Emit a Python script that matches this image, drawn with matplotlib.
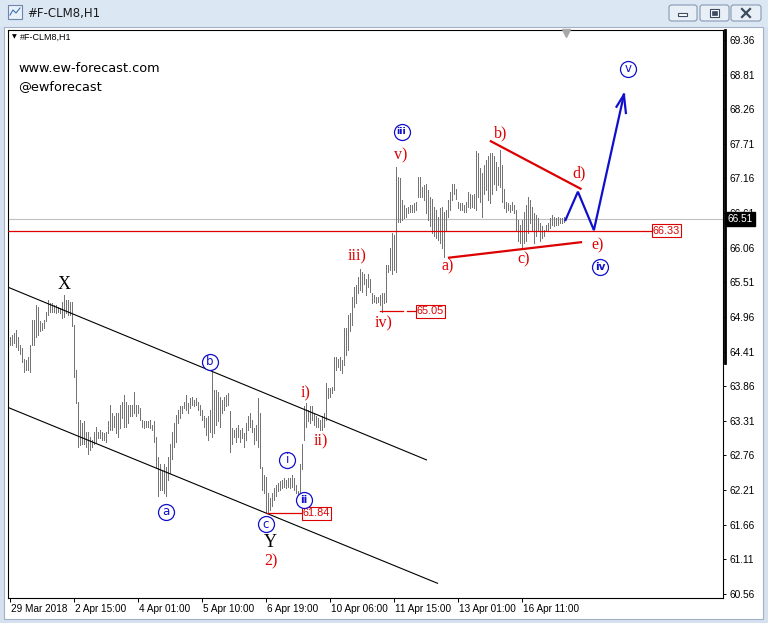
import matplotlib
matplotlib.use("Agg")
import matplotlib.pyplot as plt
from matplotlib.patches import Rectangle, FancyBboxPatch
from matplotlib.lines import Line2D
import matplotlib.transforms as mtrans

W, H = 768, 623

# ---------------- data (H1 bars of #F-CLM8) ----------------
highs = [
    64.65, 64.67, 64.70, 64.75, 64.65, 64.51, 64.46, 64.30, 64.28, 64.33,
    64.51, 64.91, 64.91, 65.15, 65.12, 64.89, 64.86, 64.91, 65.04, 65.23,
    65.18, 65.18, 65.15, 65.15, 65.12, 65.10, 65.20, 65.31, 65.23, 65.23,
    65.20, 65.20, 64.83, 64.12, 63.61, 63.32, 63.27, 63.30, 63.14, 63.14,
    63.06, 63.01, 63.14, 63.22, 63.14, 63.16, 63.14, 63.11, 63.14, 63.30,
    63.56, 63.43, 63.38, 63.43, 63.43, 63.56, 63.61, 63.72, 63.61, 63.56,
    63.56, 63.56, 63.77, 63.56, 63.56, 63.51, 63.32, 63.30, 63.30, 63.30,
    63.32, 63.24,
    63.30, 63.06, 62.74, 62.63, 62.53, 62.63, 62.58, 62.74, 62.95, 63.14,
    63.27, 63.40, 63.48, 63.54, 63.54, 63.61, 63.72, 63.59, 63.67, 63.69,
    63.64, 63.67, 63.61, 63.56, 63.48, 63.38, 63.35, 63.38, 63.48, 64.09,
    63.80, 63.80, 63.77, 63.69, 63.64, 63.69, 63.72, 63.75, 63.46, 63.19,
    63.16, 63.19, 63.24, 63.16, 63.19, 63.11, 63.27, 63.38, 63.43, 63.32,
    63.19, 63.24, 63.67, 63.43, 62.58, 62.45, 62.42, 62.16, 62.08, 62.16,
    62.24, 62.29, 62.32, 62.35, 62.37, 62.40, 62.37, 62.40, 62.40, 62.45,
    62.40, 62.29, 62.19, 62.63,
    62.95, 63.54, 63.59, 63.48, 63.54, 63.54, 63.43, 63.38, 63.35, 63.32,
    63.38, 63.43, 63.91, 63.83, 63.83, 63.85, 64.33, 64.33, 64.30, 64.33,
    64.28, 64.78, 64.78, 64.99, 65.02, 65.28, 65.44, 65.47, 65.60, 65.73,
    65.68, 65.65, 65.57, 65.65, 65.57, 65.34, 65.31, 65.28, 65.28, 65.31,
    65.34, 65.34, 65.79, 65.79, 66.05, 66.29, 66.26, 67.35, 67.19, 67.16,
    66.82, 66.74, 66.69, 66.71, 66.74, 66.74, 66.77, 66.79, 67.19, 67.19,
    67.03, 67.06, 67.08, 66.98, 66.87, 66.84, 66.71, 66.66, 66.55, 66.69,
    66.71, 66.63, 66.66, 66.82, 66.95, 67.08, 67.08, 67.00, 66.79, 66.77,
    66.77, 66.74, 66.79, 66.95, 66.92, 66.90, 66.92, 67.59, 67.56, 67.32,
    67.24, 67.37, 67.45, 67.51, 67.56, 67.56, 67.51, 67.43, 67.35, 67.61,
    67.37, 67.00, 66.79, 66.77, 66.74, 66.79, 66.74, 66.66, 66.50, 66.42,
    66.50, 66.63, 66.74, 66.87, 66.82, 66.71, 66.61, 66.58, 66.53, 66.45,
    66.40, 66.34, 66.42, 66.45, 66.53, 66.58, 66.55, 66.53, 66.55, 66.53,
    66.53, 66.55,
]
lows = [
    64.51, 64.51, 64.54, 64.49, 64.44, 64.38, 64.25, 64.09, 64.12, 64.12,
    64.09, 64.51, 64.51, 64.65, 64.67, 64.73, 64.75, 64.78, 64.89, 64.99,
    65.04, 65.04, 65.04, 65.02, 65.04, 65.02, 64.94, 64.96, 65.02, 64.99,
    64.99, 64.81, 64.01, 63.59, 62.90, 62.93, 62.95, 62.95, 62.90, 62.79,
    62.85, 62.90, 62.95, 62.98, 63.03, 63.03, 63.01, 63.01, 62.98, 63.11,
    63.16, 63.16, 63.22, 63.11, 63.06, 63.19, 63.35, 63.22, 63.22, 63.27,
    63.38, 63.38, 63.43, 63.38, 63.43, 63.32, 63.22, 63.19, 63.22, 63.22,
    63.19, 63.16,
    62.98, 62.56, 62.11, 62.21, 62.21, 62.16, 62.11, 62.37, 62.48, 62.71,
    62.90, 62.98, 63.27, 63.35, 63.43, 63.51, 63.48, 63.43, 63.51, 63.56,
    63.54, 63.56, 63.48, 63.40, 63.32, 63.22, 63.09, 63.01, 63.14, 63.06,
    63.11, 63.24, 63.30, 63.22, 63.43, 63.48, 63.54, 63.56, 62.82, 62.95,
    63.06, 62.98, 63.06, 62.98, 63.03, 62.90, 63.01, 63.17, 63.22, 63.14,
    62.95, 63.01, 62.90, 62.56, 62.21, 62.16, 61.87, 61.84, 61.89, 61.95,
    62.05, 62.11, 62.19, 62.21, 62.24, 62.26, 62.24, 62.26, 62.24, 62.26,
    62.21, 62.16, 62.05, 62.11,
    62.55, 63.00, 63.22, 63.30, 63.27, 63.32, 63.24, 63.22, 63.22, 63.16,
    63.16, 63.22, 63.32, 63.67, 63.69, 63.75, 63.80, 64.12, 64.17, 64.12,
    64.07, 64.20, 64.36, 64.44, 64.73, 64.83, 65.12, 65.18, 65.34, 65.39,
    65.36, 65.49, 65.31, 65.44, 65.36, 65.18, 65.20, 65.18, 65.20, 65.15,
    65.04, 65.18, 65.20, 65.68, 65.71, 65.65, 65.71, 65.68, 66.47, 66.47,
    66.50, 66.53, 66.55, 66.61, 66.63, 66.63, 66.63, 66.66, 66.87, 66.87,
    66.87, 66.82, 66.61, 66.50, 66.40, 66.29, 66.24, 66.21, 66.18, 66.13,
    66.05, 65.92, 66.34, 66.55, 66.66, 66.82, 66.92, 66.84, 66.69, 66.66,
    66.66, 66.63, 66.63, 66.71, 66.69, 66.71, 66.69, 66.66, 66.87, 66.79,
    66.55, 66.92, 66.98, 66.82, 66.77, 66.92, 67.08, 66.98, 67.06, 67.03,
    66.79, 66.69, 66.63, 66.66, 66.63, 66.66, 66.61, 66.34, 66.16, 66.13,
    66.05, 66.13, 66.16, 66.29, 66.45, 66.34, 66.13, 66.24, 66.34, 66.16,
    66.21, 66.24, 66.32, 66.34, 66.37, 66.42, 66.40, 66.42, 66.42, 66.45,
    66.45, 66.47,
]

price_ticks = [69.36, 68.81, 68.26, 67.71, 67.16, 66.61, 66.06, 65.51, 64.96,
               64.41, 63.86, 63.31, 62.76, 62.21, 61.66, 61.11, 60.56]
time_tick_bars = [0, 32, 64, 96, 128, 160, 192, 224, 256]
time_tick_labels = ["29 Mar 2018", "2 Apr 15:00", "4 Apr 01:00", "5 Apr 10:00",
                    "6 Apr 19:00", "10 Apr 06:00", "11 Apr 15:00", "13 Apr 01:00",
                    "16 Apr 11:00"]
bid_price = 66.51
level_price = 66.33
level_iv = 65.05
level_c = 61.84

# annotation geometry in (bar index, price)
channel_upper = [(-0.5, 65.43), (208.5, 62.69)]
channel_lower = [(-0.5, 63.52), (214.0, 60.73)]
tri_upper = [(240.2, 67.76), (286.0, 66.99)]
tri_lower = [(219.2, 65.90), (286.3, 66.15)]
blue_path_x = [278.0, 284.2, 292.2, 307.2]
blue_path_y = [66.50, 66.95, 66.34, 68.49]
arrow_barbs = [(303.5, 68.30), (308.2, 68.20)]

circle_labels = [("a", 78.0, 61.87), ("b", 100.2, 64.25), ("c", 128.0, 61.67),
                 ("i", 138.9, 62.69), ("ii", 147.2, 62.05), ("iii", 196.0, 67.90),
                 ("iv", 295.2, 65.76), ("v", 309.2, 68.90)]
red_labels = [("i)", 148.0, 63.74), ("ii)", 155.9, 62.98), ("iii)", 173.9, 65.92),
              ("iv)", 187.2, 64.86), ("v)", 195.5, 67.53), ("a)", 218.9, 65.76),
              ("b)", 245.5, 67.88), ("c)", 257.2, 65.87), ("d)", 284.7, 67.24),
              ("e)", 293.9, 66.10), ("2)", 130.9, 61.08)]
black_labels = [("X", 27.5, 65.47), ("Y", 130.5, 61.37)]

RED = "#dd0000"
BLUE = "#1010cc"
GRAY = "#747474"

fig = plt.figure(figsize=(W / 100, H / 100), dpi=100)

# ---------------- window chrome ----------------
bg = fig.add_axes([0, 0, 1, 1])
bg.set_xlim(0, W)
bg.set_ylim(H, 0)
bg.axis("off")
bg.add_patch(Rectangle((0, 0), W, H, color="#d5e1ef", zorder=0))
bg.add_patch(Rectangle((0, 0), W, 26, color="#dce7f4", zorder=0))
bg.add_patch(Rectangle((4, 27), 759, 592, fc="white", ec="#a3b1c4", lw=0.8, zorder=1))
# icon
bg.add_patch(Rectangle((8, 5), 14, 14, fc="#eaf1fb", ec="#6c86ad", lw=0.8, zorder=2))
bg.plot([10, 13, 16, 20], [15, 10, 13, 8], color="#3d6fb5", lw=0.8, zorder=3)
bg.text(27, 13, "#F-CLM8,H1", fontsize=8.5, va="center", ha="left",
        color="#1b1b1b", family="DejaVu Sans", zorder=3)
for (bx, bw) in [(669, 28), (700, 29), (731, 30)]:
    bg.add_patch(FancyBboxPatch((bx, 5), bw, 16, boxstyle="round,pad=0,rounding_size=2.5",
                                fc="#e9eff7", ec="#8799b2", lw=0.8, zorder=2))
bg.add_patch(Rectangle((678, 13), 9, 3, fc="white", ec="#3b4a5e", lw=0.8, zorder=3))
bg.add_patch(Rectangle((710, 9), 9, 8, fc="white", ec="#3b4a5e", lw=0.8, zorder=3))
bg.add_patch(Rectangle((712, 11), 5, 4, fc="#3b4a5e", ec="#3b4a5e", lw=0.5, zorder=3))
bg.plot([742, 750], [9, 17], color="#3b4a5e", lw=1.6, zorder=3)
bg.plot([742, 750], [17, 9], color="#3b4a5e", lw=1.6, zorder=3)

# ---------------- chart ----------------
ax = fig.add_axes([8 / W, 25 / H, 715 / W, 568 / H])
ax.set_facecolor("white")
ax.set_xlim(-0.75, 356.75)
ax.set_ylim(60.496, 69.519)
for s in ax.spines.values():
    s.set_color("black")
    s.set_linewidth(0.8)

idx = list(range(len(highs)))
ax.axhline(bid_price, color="#c0c0c0", lw=0.8, zorder=1)
ax.vlines(idx, lows, highs, colors=GRAY, linewidth=0.72, antialiased=False, zorder=2)

# channel lines
for ln in (channel_upper, channel_lower):
    ax.plot([p[0] for p in ln], [p[1] for p in ln], color="black", lw=0.8, zorder=3)

# horizontal levels
box = dict(boxstyle="square,pad=0.12", fc="white", ec=RED, lw=0.8)
ax.plot([-0.75, 321.5], [level_price, level_price], color=RED, lw=0.9, zorder=3)
ax.text(321.7, level_price, "66.33", fontsize=7.8, color=RED, ha="left", va="center",
        family="Liberation Sans", bbox=box, zorder=6)
ax.plot([185, 196.9], [level_iv, level_iv], color=RED, lw=0.9, zorder=3)
ax.plot([198.9, 203.5], [level_iv, level_iv], color=RED, lw=0.9, zorder=3)
ax.text(203.7, level_iv, "65.05", fontsize=7.8, color=RED, ha="left", va="center",
        family="Liberation Sans", bbox=box, zorder=6)
ax.plot([128.9, 140.5], [level_c, level_c], color=RED, lw=0.9, zorder=3)
ax.plot([141.4, 146.5], [level_c, level_c], color=RED, lw=0.9, zorder=3)
ax.text(146.7, level_c, "61.84", fontsize=7.8, color=RED, ha="left", va="center",
        family="Liberation Sans", bbox=box, zorder=6)

# triangle lines
for ln in (tri_upper, tri_lower):
    ax.plot([p[0] for p in ln], [p[1] for p in ln], color=RED, lw=1.6, zorder=4,
            solid_capstyle="butt")

# blue projected path + arrow
ax.plot(blue_path_x, blue_path_y, color=BLUE, lw=1.6, zorder=4, solid_joinstyle="miter")
for bx, by in arrow_barbs:
    ax.plot([blue_path_x[-1], bx], [blue_path_y[-1], by], color=BLUE, lw=1.6, zorder=4)

# circled labels
for t, x, y in circle_labels:
    ax.plot([x], [y], "o", ms=11.5, mfc="white", mec=BLUE, mew=0.9, zorder=7)
    fs = 8.5 if len(t) == 1 else (7.5 if len(t) == 2 else 6.8)
    ax.text(x, y, t, fontsize=fs, color=BLUE, ha="center", va="center",
            family="DejaVu Sans", fontweight="bold" if len(t) > 1 else "normal", zorder=8)

for t, x, y in red_labels:
    ax.text(x, y, t, fontsize=11.5, color=RED, ha="center", va="center",
            family="Liberation Serif", zorder=8)
for t, x, y in black_labels:
    ax.text(x, y, t, fontsize=13, color="black", ha="center", va="center",
            family="Liberation Serif", zorder=8)

# axes ticks
ax.yaxis.tick_right()
ax.set_yticks(price_ticks)
ax.set_yticklabels([f"{v:.2f}" for v in price_ticks])
ax.tick_params(axis="y", direction="out", length=2.5, width=0.7, pad=2, labelsize=7.3)
for lab in ax.get_yticklabels():
    lab.set_family("Liberation Sans")
ax.set_xticks(time_tick_bars)
ax.set_xticklabels([])
ax.tick_params(axis="x", direction="out", length=3, width=0.7)
for b, lbl in zip(time_tick_bars, time_tick_labels):
    ax.annotate(lbl, xy=(b, 0), xycoords=("data", "axes fraction"), xytext=(1.0, -4.0),
                textcoords="offset points", ha="left", va="top", fontsize=7.2,
                family="Liberation Sans", annotation_clip=False)

# current price label
ax.annotate(f"{bid_price:.2f}", xy=(1, bid_price), xycoords=("axes fraction", "data"),
            xytext=(3.2, 0), textcoords="offset points", ha="left", va="center",
            fontsize=7.3, color="white", family="Liberation Sans", annotation_clip=False,
            bbox=dict(boxstyle="square,pad=0.2", fc="black", ec="black"), zorder=10)

# chart header + markers
ax.text(0.006, 0.988, "\u25bc", fontsize=4.5, transform=ax.transAxes, ha="left", va="center")
ax.text(0.017, 0.988, "#F-CLM8,H1", fontsize=6.5, transform=ax.transAxes, ha="left",
        va="center", family="Liberation Sans")
trans_top = mtrans.blended_transform_factory(ax.transData, ax.transAxes)
ax.plot([len(highs)], [0.994], marker="v", ms=6, color="#a8a8a8", transform=trans_top,
        clip_on=False, zorder=9)

# thick upper part of right border
fig.add_artist(Line2D([724.5 / W, 724.5 / W], [1 - 30 / H, 1 - 363 / H], lw=2.0, color="black"))

fig.text(18 / W, 1 - 69 / H, "www.ew-forecast.com", fontsize=9.3, va="center", ha="left",
         family="DejaVu Sans")
fig.text(18 / W, 1 - 87 / H, "@ewforecast", fontsize=9.3, va="center", ha="left",
         family="DejaVu Sans")

fig.savefig("out.png", dpi=100)
